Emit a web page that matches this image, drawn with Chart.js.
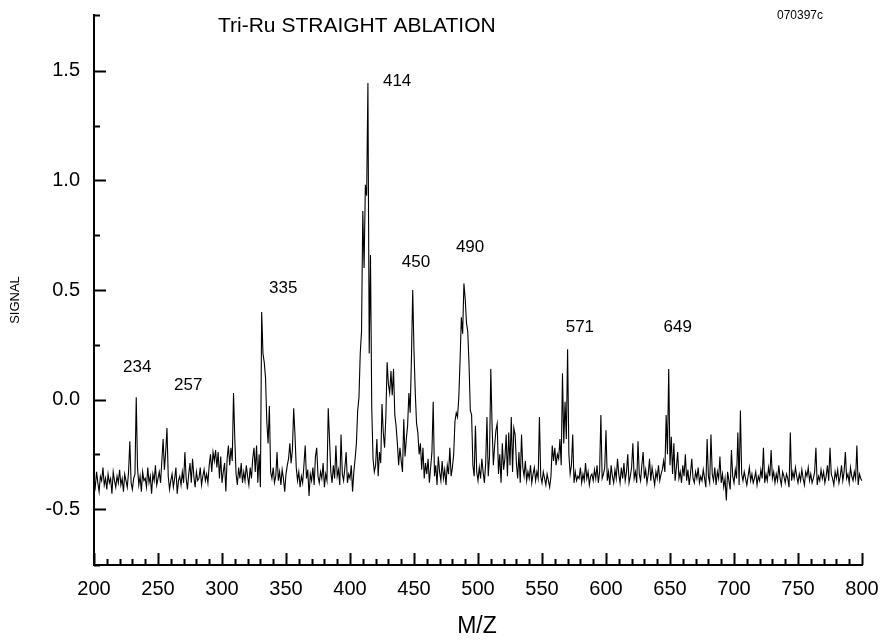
<!DOCTYPE html>
<html>
<head>
<meta charset="utf-8">
<script src="https://cdn.jsdelivr.net/npm/chart.js@4.4.1/dist/chart.umd.min.js"></script>
<style>
  body { margin: 0; background: #fff; }
  #wrap { width: 882px; height: 640px; }
</style>
</head>
<body>
<div id="wrap"><canvas id="spec" width="882" height="640"></canvas></div>
<script>
// m/z sampling of the spectrum (one reading per unit)
const massStart = 200;
const massStep = 1;

// signal, 10 readings per row
const signal = [
  -0.36,-0.40,-0.33,-0.38,-0.42,-0.35,-0.37,-0.31,-0.39,-0.36, // 200
  -0.41,-0.34,-0.38,-0.36,-0.43,-0.33,-0.37,-0.40,-0.35,-0.38, // 210
  -0.32,-0.39,-0.36,-0.42,-0.34,-0.37,-0.40,-0.33,-0.19,-0.38, // 220
  -0.41,-0.36,-0.34, 0.01,-0.31,-0.39,-0.35,-0.42,-0.33,-0.37, // 230
  -0.36,-0.40,-0.31,-0.38,-0.35,-0.43,-0.34,-0.37,-0.30,-0.39, // 240
  -0.36,-0.33,-0.38,-0.28,-0.18,-0.32,-0.24,-0.13,-0.35,-0.41, // 250
  -0.37,-0.34,-0.40,-0.36,-0.31,-0.43,-0.37,-0.35,-0.39,-0.33, // 260
  -0.38,-0.24,-0.36,-0.41,-0.34,-0.29,-0.38,-0.27,-0.35,-0.40, // 270
  -0.33,-0.37,-0.36,-0.31,-0.39,-0.35,-0.32,-0.37,-0.34,-0.38, // 280
  -0.30,-0.25,-0.33,-0.24,-0.28,-0.23,-0.31,-0.24,-0.36,-0.26, // 290
  -0.38,-0.33,-0.29,-0.42,-0.27,-0.21,-0.30,-0.22,-0.28, 0.03, // 300
  -0.18,-0.34,-0.39,-0.31,-0.36,-0.29,-0.38,-0.33,-0.37,-0.30, // 310
  -0.35,-0.39,-0.31,-0.36,-0.27,-0.22,-0.33,-0.21,-0.38,-0.25, // 320
  -0.40, 0.40, 0.21, 0.17, 0.10,-0.10,-0.20,-0.03,-0.33,-0.36, // 330
  -0.31,-0.38,-0.35,-0.24,-0.37,-0.33,-0.39,-0.32,-0.36,-0.42, // 340
  -0.34,-0.30,-0.27,-0.20,-0.29,-0.23,-0.04,-0.16,-0.31,-0.37, // 350
  -0.33,-0.40,-0.35,-0.38,-0.30,-0.21,-0.36,-0.32,-0.44,-0.34, // 360
  -0.37,-0.31,-0.39,-0.26,-0.22,-0.35,-0.38,-0.33,-0.36,-0.29, // 370
  -0.40,-0.34,-0.37,-0.04,-0.18,-0.33,-0.38,-0.30,-0.36,-0.21, // 380
  -0.35,-0.32,-0.39,-0.16,-0.34,-0.37,-0.31,-0.24,-0.38,-0.34, // 390
  -0.36,-0.30,-0.42,-0.33,-0.27,-0.20,-0.05, 0.01, 0.21, 0.31, // 400
   0.86, 0.60, 0.98, 0.93, 1.445,0.21, 0.66,-0.04,-0.27,-0.33, // 410
  -0.30,-0.18,-0.35,-0.24,-0.29,-0.02,-0.15,-0.22,-0.08, 0.17, // 420
   0.07, 0.03, 0.13, 0.02, 0.14,-0.07,-0.12,-0.20,-0.30,-0.22, // 430
  -0.28,-0.33,-0.09,-0.26,-0.18,-0.12, 0.03,-0.06, 0.19, 0.50, // 440
   0.22, 0.03,-0.11,-0.15,-0.25,-0.20,-0.32,-0.22,-0.36,-0.29, // 450
  -0.34,-0.27,-0.38,-0.31,-0.24,-0.01,-0.35,-0.30,-0.39,-0.26, // 460
  -0.33,-0.37,-0.28,-0.36,-0.32,-0.39,-0.30,-0.34,-0.22,-0.35, // 470
  -0.31,-0.25,-0.10,-0.06,-0.08, 0.01, 0.18, 0.375,0.30, 0.53, // 480
   0.46, 0.35, 0.31, 0.16,-0.05,-0.07,-0.30,-0.35,-0.12,-0.33, // 490
  -0.37,-0.31,-0.36,-0.27,-0.33,-0.38,-0.29,-0.08,-0.35,-0.26, // 500
   0.14,-0.12,-0.30,-0.21,-0.14,-0.11,-0.34,-0.25,-0.38,-0.20, // 510
  -0.32,-0.27,-0.16,-0.35,-0.15,-0.30,-0.08,-0.33,-0.13,-0.16, // 520
  -0.29,-0.36,-0.24,-0.38,-0.16,-0.31,-0.35,-0.28,-0.37,-0.33, // 530
  -0.36,-0.30,-0.38,-0.34,-0.31,-0.37,-0.33,-0.36,-0.08,-0.35, // 540
  -0.38,-0.33,-0.36,-0.39,-0.34,-0.37,-0.40,-0.35,-0.21,-0.28, // 550
  -0.22,-0.30,-0.25,-0.27,-0.18,-0.30, 0.12,-0.20,-0.01,-0.18, // 560
   0.23,-0.25,-0.34,-0.30,-0.16,-0.38,-0.33,-0.37,-0.35,-0.36, // 570
  -0.31,-0.38,-0.34,-0.37,-0.29,-0.36,-0.33,-0.39,-0.35,-0.34, // 580
  -0.37,-0.32,-0.36,-0.30,-0.38,-0.33,-0.07,-0.36,-0.34,-0.31, // 590
  -0.14,-0.37,-0.33,-0.39,-0.30,-0.35,-0.38,-0.32,-0.36,-0.27, // 600
  -0.34,-0.38,-0.31,-0.36,-0.29,-0.37,-0.33,-0.25,-0.38,-0.35, // 610
  -0.31,-0.20,-0.36,-0.33,-0.38,-0.19,-0.34,-0.37,-0.30,-0.24, // 620
  -0.36,-0.32,-0.38,-0.34,-0.27,-0.37,-0.31,-0.35,-0.39,-0.33, // 630
  -0.36,-0.30,-0.37,-0.34,-0.32,-0.28,-0.33,-0.07,-0.25, 0.14, // 640
  -0.30,-0.17,-0.34,-0.20,-0.37,-0.31,-0.24,-0.36,-0.33,-0.38, // 650
  -0.30,-0.35,-0.25,-0.37,-0.32,-0.39,-0.34,-0.27,-0.36,-0.38, // 660
  -0.33,-0.36,-0.31,-0.38,-0.35,-0.37,-0.32,-0.36,-0.40,-0.18, // 670
  -0.35,-0.38,-0.16,-0.34,-0.37,-0.31,-0.39,-0.33,-0.36,-0.26, // 680
  -0.38,-0.34,-0.40,-0.36,-0.46,-0.33,-0.37,-0.41,-0.23,-0.35, // 690
  -0.38,-0.32,-0.36,-0.15,-0.39,-0.05,-0.34,-0.37,-0.33,-0.36, // 700
  -0.39,-0.35,-0.31,-0.37,-0.34,-0.38,-0.36,-0.33,-0.39,-0.35, // 710
  -0.37,-0.32,-0.36,-0.22,-0.38,-0.34,-0.37,-0.31,-0.35,-0.23, // 720
  -0.36,-0.33,-0.38,-0.34,-0.37,-0.30,-0.36,-0.39,-0.33,-0.35, // 730
  -0.38,-0.34,-0.36,-0.40,-0.15,-0.37,-0.33,-0.36,-0.31,-0.35, // 740
  -0.38,-0.34,-0.37,-0.32,-0.36,-0.39,-0.33,-0.35,-0.31,-0.37, // 750
  -0.34,-0.38,-0.36,-0.33,-0.22,-0.39,-0.35,-0.37,-0.32,-0.36, // 760
  -0.33,-0.38,-0.35,-0.30,-0.37,-0.22,-0.34,-0.36,-0.39,-0.33, // 770
  -0.36,-0.32,-0.38,-0.35,-0.30,-0.37,-0.33,-0.24,-0.36,-0.34, // 780
  -0.38,-0.31,-0.35,-0.37,-0.33,-0.36,-0.21,-0.39,-0.34,-0.36, // 790
  -0.37                                                         // 800
];

// peak annotations: text and where it sits (in data units)
const peakText = ['234', '257', '335', '414', '450', '490', '571', '649'];
const peakMz   = [233.8, 273.6, 347.8, 436.8, 451.6, 493.8, 579.6, 656.0];
const peakSig  = [0.145, 0.063, 0.506, 1.453, 0.625, 0.694, 0.328, 0.328];

const FONT = '"Liberation Sans", Arial, sans-serif';

const points = signal.map((v, i) => ({ x: massStart + i * massStep, y: v }));

// inward tick marks + free text
const decorations = {
  id: 'decorations',
  afterDraw(chart) {
    const ctx = chart.ctx;
    const xs = chart.scales.x, ys = chart.scales.y;
    const area = chart.chartArea;
    ctx.save();
    ctx.strokeStyle = '#000';
    ctx.lineWidth = 2;
    ctx.beginPath();
    xs.ticks.forEach(t => {
      const px = Math.round(xs.getPixelForValue(t.value)) + 0.5;
      const len = Math.round(t.value) % 50 === 0 ? 12 : 6;
      ctx.moveTo(px, area.bottom);
      ctx.lineTo(px, area.bottom - len);
    });
    ys.ticks.forEach(t => {
      const py = Math.round(ys.getPixelForValue(t.value)) + 0.5;
      const half = t.value * 2;
      const len = Math.abs(half - Math.round(half)) < 1e-6 ? 12 : 6;
      ctx.moveTo(area.left, py);
      ctx.lineTo(area.left + len, py);
    });
    ctx.stroke();

    ctx.fillStyle = '#000';
    ctx.textAlign = 'center';
    ctx.textBaseline = 'middle';
    ctx.font = '17px ' + FONT;
    peakText.forEach((txt, i) => {
      ctx.fillText(txt, xs.getPixelForValue(peakMz[i]), ys.getPixelForValue(peakSig[i]));
    });

    ctx.font = '21px ' + FONT;
    ctx.textAlign = 'left';
    ctx.fillText('Tri-Ru STRAIGHT ABLATION', 218, 26);

    ctx.font = '12px ' + FONT;
    ctx.fillText('070397c', 777, 16);

    ctx.font = '23px ' + FONT;
    ctx.textAlign = 'center';
    ctx.fillText('M/Z', 477, 627);

    ctx.translate(15, 300);
    ctx.rotate(-Math.PI / 2);
    ctx.font = '13px ' + FONT;
    ctx.fillText('SIGNAL', 0, 0);
    ctx.restore();
  }
};

new Chart(document.getElementById('spec'), {
  type: 'line',
  data: {
    datasets: [{
      data: points,
      borderColor: '#000',
      borderWidth: 1.1,
      pointRadius: 0,
      tension: 0,
      fill: false
    }]
  },
  options: {
    responsive: false,
    animation: false,
    layout: { padding: { top: 15, right: 20, bottom: 0, left: 0 } },
    plugins: { legend: { display: false }, tooltip: { enabled: false } },
    scales: {
      x: {
        type: 'linear',
        min: 200,
        max: 800,
        grid: { display: false, drawTicks: false },
        border: { display: true, color: '#000', width: 2 },
        ticks: {
          stepSize: 10,
          autoSkip: false,
          maxRotation: 0,
          padding: 12,
          color: '#000',
          font: { family: FONT, size: 20 },
          callback: v => (Math.round(v) % 50 === 0 ? String(Math.round(v)) : '')
        },
        afterFit: s => { s.height = 75; s.paddingLeft = 0; s.paddingRight = 0; }
      },
      y: {
        min: -0.755,
        max: 1.755,
        grid: { display: false, drawTicks: false },
        border: { display: true, color: '#000', width: 2 },
        ticks: {
          stepSize: 0.25,
          autoSkip: false,
          padding: 14,
          color: '#000',
          font: { family: FONT, size: 20 },
          callback: v => {
            const half = v * 2;
            return Math.abs(half - Math.round(half)) < 1e-6 ? v.toFixed(1) : '';
          }
        },
        afterFit: s => { s.width = 94; s.paddingTop = 0; s.paddingBottom = 0; }
      }
    }
  },
  plugins: [decorations]
});
</script>
</body>
</html>
